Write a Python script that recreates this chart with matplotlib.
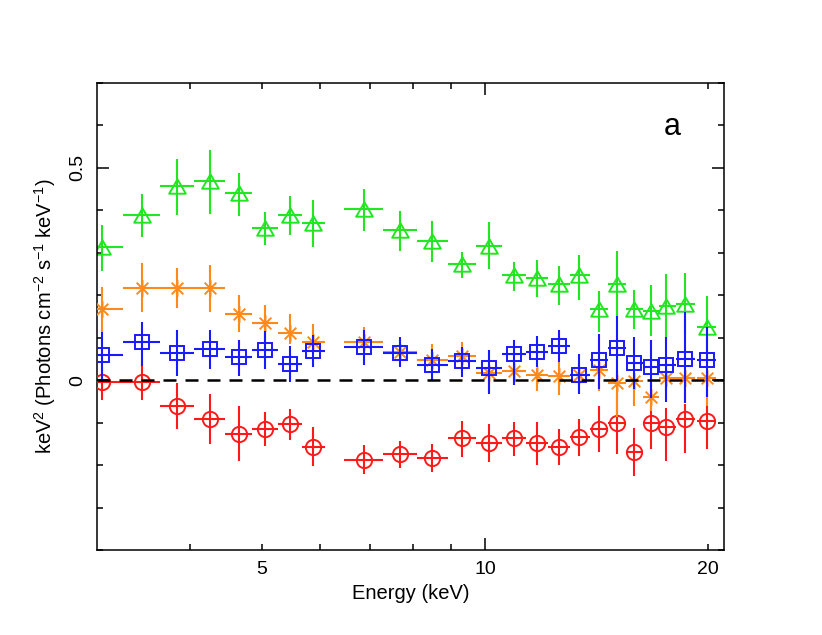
import matplotlib
matplotlib.use("Agg")
import matplotlib.pyplot as plt
from matplotlib.path import Path
from matplotlib.ticker import FixedLocator, FuncFormatter, MultipleLocator, NullFormatter

plt.rcParams['font.family'] = ['Liberation Sans', 'DejaVu Sans']
plt.rcParams['mathtext.fontset'] = 'custom'
plt.rcParams['mathtext.rm'] = 'Liberation Sans'
plt.rcParams['mathtext.it'] = 'Liberation Sans:italic'

# energy bins (keV)
e_lo = [2.98, 3.25, 3.65, 4.06, 4.46, 4.86, 5.26, 5.66, 6.46, 7.28, 8.09, 8.91,
        9.73, 10.54, 11.37, 12.18, 13.01, 13.84, 14.67, 15.51, 16.31, 17.16, 18.08, 19.34]
e_hi = [3.25, 3.65, 4.06, 4.46, 4.86, 5.26, 5.66, 6.08, 7.28, 8.09, 8.91, 9.73,
        10.54, 11.37, 12.18, 13.01, 13.84, 14.67, 15.51, 16.31, 17.16, 18.08, 19.20, 20.48]
e_mid = [3.05, 3.45, 3.85, 4.26, 4.66, 5.06, 5.46, 5.87, 6.87, 7.69, 8.48, 9.31,
         10.12, 10.95, 11.76, 12.60, 13.41, 14.23, 15.07, 15.90, 16.74, 17.55, 18.60, 19.89]

# green (triangles)
green_y = [0.314, 0.390, 0.458, 0.470, 0.441, 0.359, 0.390, 0.371, 0.404, 0.353, 0.327, 0.274,
           0.317, 0.247, 0.241, 0.227, 0.247, 0.168, 0.227, 0.168, 0.164, 0.174, 0.180, 0.125]
green_hi = [0.365, 0.438, 0.522, 0.541, 0.489, 0.396, 0.433, 0.424, 0.451, 0.398, 0.374, 0.302,
            0.373, 0.278, 0.282, 0.268, 0.294, 0.209, 0.305, 0.213, 0.223, 0.249, 0.252, 0.198]
green_lo = [0.258, 0.337, 0.388, 0.392, 0.386, 0.319, 0.341, 0.314, 0.351, 0.304, 0.278, 0.241,
            0.261, 0.210, 0.195, 0.177, 0.190, 0.113, 0.149, 0.121, 0.105, 0.097, 0.109, 0.060]

# orange (asterisks)
orange_y = [0.167, 0.217, 0.217, 0.217, 0.157, 0.135, 0.111, 0.091, 0.091, 0.066, 0.048, 0.056,
            0.018, 0.022, 0.012, 0.009, 0.012, 0.024, -0.007, -0.003, -0.039, 0.005, 0.005, 0.004]
orange_hi = [0.220, 0.276, 0.265, 0.272, 0.200, 0.177, 0.156, 0.132, 0.126, 0.085, 0.085, 0.089,
             0.034, 0.042, 0.028, 0.042, 0.038, 0.043, 0.021, 0.014, -0.007, 0.019, 0.019, 0.021]
orange_lo = [0.113, 0.161, 0.170, 0.161, 0.113, 0.090, 0.085, 0.073, 0.073, 0.045, 0.018, 0.026,
             -0.028, -0.011, -0.025, -0.035, -0.021, -0.025, -0.087, -0.061, -0.073, -0.031, -0.053, -0.061]

# blue (squares)
blue_y = [0.059, 0.091, 0.065, 0.073, 0.054, 0.070, 0.039, 0.068, 0.077, 0.065, 0.035, 0.044,
          0.028, 0.061, 0.067, 0.081, 0.012, 0.048, 0.075, 0.040, 0.032, 0.035, 0.051, 0.048]
blue_hi = [0.113, 0.138, 0.118, 0.118, 0.095, 0.115, 0.081, 0.106, 0.118, 0.101, 0.073, 0.078,
           0.071, 0.095, 0.105, 0.118, 0.061, 0.109, 0.152, 0.101, 0.095, 0.101, 0.160, 0.125]
blue_lo = [-0.005, 0.034, 0.009, 0.026, 0.009, 0.027, -0.004, 0.030, 0.036, 0.030, 0.000, 0.007,
           -0.033, -0.011, 0.030, 0.042, -0.033, -0.021, -0.002, -0.021, -0.041, -0.052, -0.053, -0.040]

# red (circles)
red_y = [-0.004, -0.004, -0.061, -0.092, -0.126, -0.114, -0.104, -0.157, -0.188, -0.174, -0.183, -0.137,
         -0.147, -0.137, -0.149, -0.157, -0.133, -0.114, -0.102, -0.169, -0.102, -0.111, -0.092, -0.097]
red_hi = [0.026, 0.040, -0.007, -0.033, -0.062, -0.075, -0.067, -0.110, -0.153, -0.143, -0.150, -0.096,
          -0.104, -0.098, -0.098, -0.114, -0.092, -0.062, -0.033, -0.112, -0.064, -0.065, -0.057, -0.061]
red_lo = [-0.047, -0.047, -0.116, -0.150, -0.191, -0.155, -0.142, -0.203, -0.222, -0.206, -0.217, -0.180,
          -0.193, -0.179, -0.200, -0.199, -0.179, -0.169, -0.175, -0.225, -0.163, -0.191, -0.171, -0.163]

tri = Path([(0, 0.433), (-0.5, -0.433), (0.5, -0.433), (0, 0.433)],
           [Path.MOVETO, Path.LINETO, Path.LINETO, Path.CLOSEPOLY])
aster = Path([(0, -1), (0, 1), (-0.7, -0.7), (0.7, 0.7), (-0.7, 0.7), (0.7, -0.7)],
             [Path.MOVETO, Path.LINETO] * 3)

series = [
    (green_y, green_lo, green_hi, '#22e622', tri, 12),
    (red_y, red_lo, red_hi, '#ff1a1a', 'o', 11),
    (orange_y, orange_lo, orange_hi, '#ff8a1a', aster, 12),
    (blue_y, blue_lo, blue_hi, '#1a1aff', 's', 9.5),
]

fig = plt.figure(figsize=(8.22, 6.35), dpi=100)
ax = fig.add_axes([0.118, 0.1339, 0.7628, 0.7354])

xerr = [[m - l for m, l in zip(e_mid, e_lo)], [h - m for m, h in zip(e_mid, e_hi)]]
for k, (y, lo, hi, col, mk, ms) in enumerate(series):
    yerr = [[v - a for v, a in zip(y, lo)], [b - v for v, b in zip(y, hi)]]
    ax.errorbar(e_mid, y, xerr=xerr, yerr=yerr, fmt='none', ecolor=col,
                elinewidth=1.5, capsize=0, zorder=2 + k)
    ax.plot(e_mid, y, linestyle='none', marker=mk, markersize=ms,
            mfc='none', mec=col, mew=1.4, zorder=2 + k)

ax.axhline(0, color='black', lw=1.8, linestyle=(0, (5.2, 3.6)), zorder=10)

ax.set_xscale('log')
ax.set_xlim(3.0, 21.0)
ax.set_ylim(-0.4, 0.7)

ax.xaxis.set_major_locator(FixedLocator([10]))
ax.xaxis.set_minor_locator(FixedLocator([4, 5, 6, 7, 8, 9, 20]))
ax.xaxis.set_major_formatter(FuncFormatter(lambda v, p: '%g' % v))
ax.xaxis.set_minor_formatter(FuncFormatter(lambda v, p: '%g' % v if v in (5, 20) else ''))
ax.yaxis.set_major_locator(FixedLocator([0, 0.5]))
ax.yaxis.set_major_formatter(FuncFormatter(lambda v, p: '0' if v == 0 else '%g' % v))
ax.yaxis.set_minor_locator(MultipleLocator(0.1))

ax.tick_params(which='both', direction='in', top=True, right=True, width=1.1,
               labelsize=14, pad=8)
ax.tick_params(which='major', length=8.5)
ax.tick_params(which='minor', length=4.5)
for lab in ax.get_yticklabels():
    lab.set_rotation(90)
    lab.set_va('center')
for sp in ax.spines.values():
    sp.set_linewidth(1.1)

ax.set_xlabel('Energy (keV)', fontsize=14.5, labelpad=4)
ax.set_ylabel('keV$^{2}$ (Photons cm$^{-2}$ s$^{-1}$ keV$^{-1}$)', fontsize=14.5, labelpad=8)
ax.text(0.918, 0.905, 'a', transform=ax.transAxes, fontsize=22, ha='center', va='center')

fig.savefig('out.png', dpi=100)
